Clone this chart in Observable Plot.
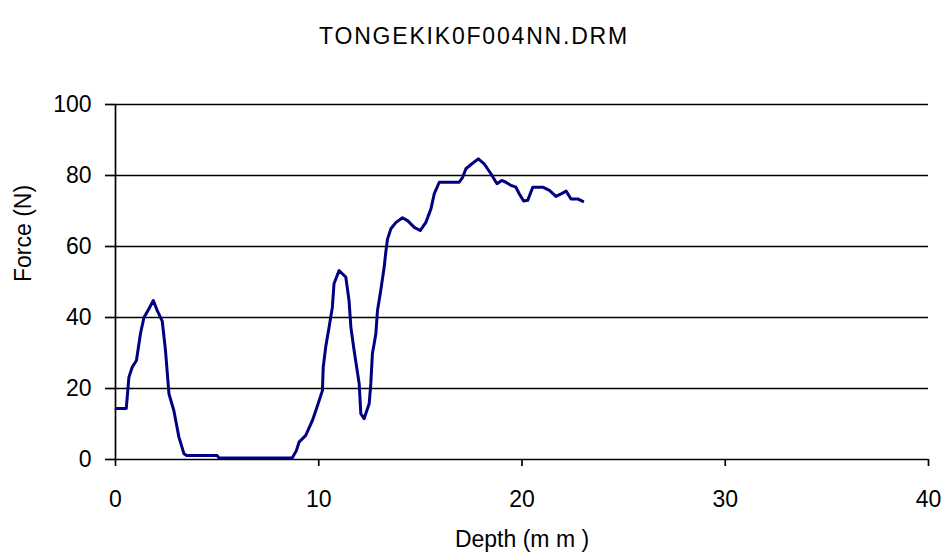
<!DOCTYPE html>
<html>
<head>
<meta charset="utf-8">
<script src="https://cdn.jsdelivr.net/npm/d3@7"></script>
<script src="https://cdn.jsdelivr.net/npm/@observablehq/plot@0.6"></script>
<style>
  html, body { margin: 0; padding: 0; background: #fff; }
  #chart svg { display: block; }
</style>
</head>
<body>
<div id="chart"></div>
<script>
const title = "TONGEKIK0F004NN.DRM";
const xLabel = "Depth (m m )";
const yLabel = "Force (N)";
const xTicks = [0, 10, 20, 30, 40];
const yTicks = [0, 20, 40, 60, 80, 100];

const depth = [0.03, 0.53, 0.66, 0.82, 1.03, 1.23, 1.4, 1.64, 1.86, 2.05, 2.3, 2.46, 2.63, 2.87, 3.12, 3.37, 3.5, 5.0, 5.1, 8.5, 8.7, 8.9,
  9.03, 9.36, 9.69, 9.94, 10.18, 10.22, 10.34, 10.51, 10.67, 10.75, 11.0, 11.33, 11.49, 11.58, 11.74, 11.99, 12.07, 12.23,
  12.48, 12.56, 12.64, 12.81, 12.89, 13.05, 13.22, 13.3, 13.38, 13.55, 13.8, 14.12, 14.37, 14.7, 14.99, 15.27, 15.52, 15.68,
  15.93, 16.91, 17.08, 17.24, 17.49, 17.85, 18.14, 18.47, 18.77, 19.0, 19.21, 19.46, 19.7, 19.87, 20.08, 20.28, 20.53,
  21.02, 21.35, 21.67, 21.92, 22.17, 22.41, 22.74, 22.99];
const force = [14.4, 14.4, 23.2, 26, 27.9, 35.5, 40, 42.4, 44.8, 42, 39, 30.7, 18.5, 13.8, 6.3, 1.6, 1.1, 1.1, 0.4, 0.4, 0.5, 2.5,
  4.9, 6.8, 11, 15.2, 19.4, 26, 31.6, 37.3, 42.9, 49.5, 53.2, 51.4, 44.8, 37.3, 30.7, 21.3, 12.9, 11.5,
  15.7, 21.3, 29.8, 35.4, 42, 47.6, 54.2, 58.5, 62, 65, 66.8, 68.1, 67.3, 65.4, 64.5, 66.8, 70.6, 74.8,
  78.1, 78.1, 79.5, 81.9, 83.1, 84.7, 83.3, 80.5, 77.7, 78.6, 78.1, 77.2, 76.7, 74.8, 72.8, 73, 76.7,
  76.7, 75.8, 74.1, 74.8, 75.6, 73.4, 73.4, 72.7];

const data = depth.map((d, i) => ({depth: d, force: force[i]}));

const font = "'Liberation Sans', Arial, sans-serif";

const chart = Plot.plot({
  width: 943,
  height: 557,
  marginTop: 104,
  marginBottom: 98,
  marginLeft: 115,
  marginRight: 15,
  style: {fontFamily: font, color: "black", background: "white"},
  x: {domain: [0, 40]},
  y: {domain: [0, 100]},
  marks: [
    Plot.ruleY(yTicks, {stroke: "black", strokeWidth: 1.7}),
    Plot.ruleX([0], {stroke: "black", strokeWidth: 1.7}),
    Plot.axisY({ticks: yTicks, tickSize: 10, tickPadding: 14, fontSize: 23, label: null, stroke: "black", strokeWidth: 1.7, strokeOpacity: 1}),
    Plot.axisX({ticks: xTicks, tickSize: 7, tickPadding: 24, fontSize: 23, label: null, stroke: "black", strokeWidth: 1.7, strokeOpacity: 1}),
    Plot.line(data, {x: "depth", y: "force", stroke: "#000080", strokeWidth: 3, curve: "linear"}),
    Plot.text([title], {frameAnchor: "top", dy: -77, dx: -48, fontSize: 23, fill: "black"}),
    Plot.text([yLabel], {frameAnchor: "left", dx: -92, rotate: -90, fontSize: 23, fill: "black"}),
    Plot.text([xLabel], {frameAnchor: "bottom", dy: 87, fontSize: 23, fill: "black"})
  ]
});
d3.select(chart).selectAll("text")
  .filter(function() { return this.textContent === title; })
  .style("letter-spacing", "1.8px");
document.getElementById("chart").appendChild(chart);
</script>
</body>
</html>
